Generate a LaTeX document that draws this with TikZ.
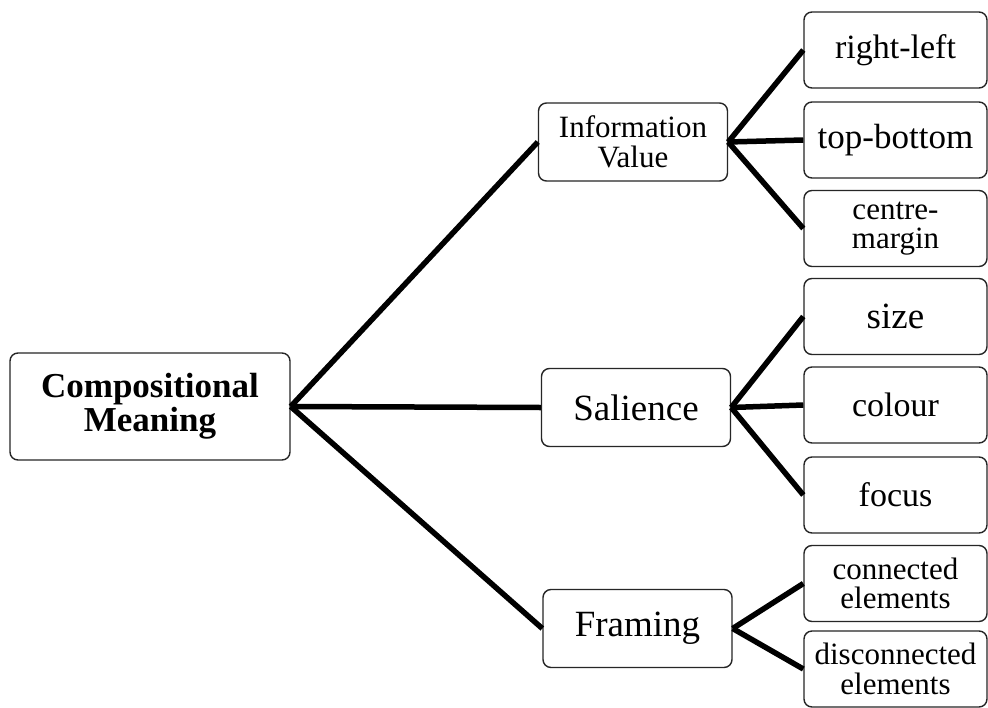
\documentclass[tikz,border=0pt]{standalone}
\usepackage{fontspec}
\setmainfont{Liberation Serif}
\begin{document}
\begin{tikzpicture}[x=1pt,y=-1pt,
  box/.style={draw=black!85, line width=1.4pt, rounded corners=8pt, fill=white,
    inner sep=0pt, align=center, text=black},
  leaf/.style={box, minimum width=183pt, minimum height=76pt,
    font=\fontsize{34}{30}\selectfont},
  two/.style={font=\fontsize{31}{29.5}\selectfont},
  mid/.style={box, minimum width=189pt, minimum height=78pt,
    font=\fontsize{37}{30}\selectfont},
  link/.style={line width=5.5pt, black}]
\useasboundingbox (0,0) rectangle (988,707);
\fill[white] (0,0) rectangle (988,707);

\node[box, minimum width=280pt, minimum height=107pt,
  font=\fontsize{35}{34}\selectfont\bfseries] (root) at (150,406.5) {Compositional\\Meaning};

\node[mid, font=\fontsize{31}{29.5}\selectfont] (info) at (633,142) {Information\\Value};
\node[mid] (sal) at (636,407.5) {Salience};
\node[mid] (fram) at (637.5,628.5) {Framing};

\node[leaf] (rl) at (895.5,50) {right-left};
\node[leaf, font=\fontsize{35}{30}\selectfont] (tb) at (895.5,140) {top-bottom};
\node[leaf, two] (cm) at (895.5,228.5) {centre-\\margin};
\node[leaf, font=\fontsize{37}{30}\selectfont] (size) at (895.5,316.5) {size};
\node[leaf] (colour) at (895.5,405) {colour};
\node[leaf] (focus) at (895.5,495) {focus};
\node[leaf, two] (conn) at (895.5,583.5) {connected\\elements};
\node[leaf, two] (disc) at (895.5,669) {disconnected\\elements};

\draw[link] (root.east) -- (info.west);
\draw[link] (root.east) -- (sal.west);
\draw[link] (root.east) -- (fram.west);

\draw[link] (info.east) -- (rl.west);
\draw[link] (info.east) -- (tb.west);
\draw[link] (info.east) -- (cm.west);

\draw[link] (sal.east) -- (size.west);
\draw[link] (sal.east) -- (colour.west);
\draw[link] (sal.east) -- (focus.west);

\draw[link] (fram.east) -- (conn.west);
\draw[link] (fram.east) -- (disc.west);
\end{tikzpicture}
\end{document}
